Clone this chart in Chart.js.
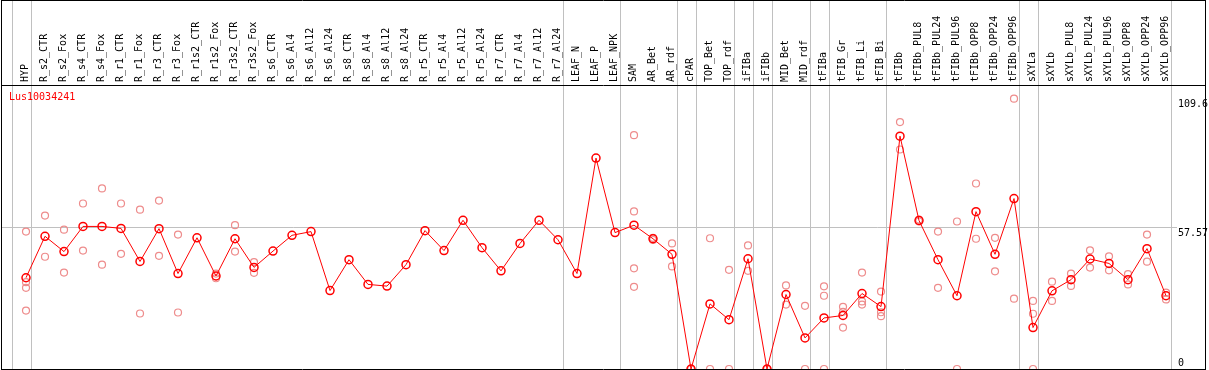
<!DOCTYPE html>
<html>
<head>
<meta charset="utf-8">
<script src="https://cdn.jsdelivr.net/npm/chart.js@4.4.1/dist/chart.umd.min.js"></script>
<style>
  html, body { margin: 0; padding: 0; background: #fff; }
  #wrap { width: 1209px; height: 370px; }
</style>
</head>
<body>
<div id="wrap"><canvas id="c" width="1209" height="370"></canvas></div>
<script>
const chartTitle = "Lus10034241";

const categories = [
  "HYP","R_s2_CTR","R_s2_Fox","R_s4_CTR","R_s4_Fox","R_r1_CTR","R_r1_Fox","R_r3_CTR","R_r3_Fox",
  "R_r1s2_CTR","R_r1s2_Fox","R_r3s2_CTR","R_r3s2_Fox","R_s6_CTR","R_s6_Al4","R_s6_Al12","R_s6_Al24",
  "R_s8_CTR","R_s8_Al4","R_s8_Al12","R_s8_Al24","R_r5_CTR","R_r5_Al4","R_r5_Al12","R_r5_Al24",
  "R_r7_CTR","R_r7_Al4","R_r7_Al12","R_r7_Al24","LEAF_N","LEAF_P","LEAF_NPK","SAM","AR_Bet","AR_rdf",
  "cPAR","TOP_Bet","TOP_rdf","iFIBa","iFIBb","MID_Bet","MID_rdf","tFIBa","tFIB_Gr","tFIB_Li","tFIB_Bi",
  "tFIBb","tFIBb_PUL8","tFIBb_PUL24","tFIBb_PUL96","tFIBb_OPP8","tFIBb_OPP24","tFIBb_OPP96",
  "sXYLa","sXYLb","sXYLb_PUL8","sXYLb_PUL24","sXYLb_PUL96","sXYLb_OPP8","sXYLb_OPP24","sXYLb_OPP96"
];

const meanValues = [
  37.0, 53.8, 47.6, 57.8, 57.8, 57.0, 43.6, 56.9, 38.7,
  53.2, 37.7, 52.8, 41.2, 47.8, 54.2, 55.7, 31.8,
  44.3, 34.3, 33.6, 42.3, 56.1, 48.0, 60.3, 49.2,
  39.8, 50.9, 60.3, 52.4, 38.7, 85.5, 55.3, 58.3, 52.8, 46.5,
  0, 26.4, 20.0, 44.7, 0, 30.2, 12.6, 20.7, 21.7, 30.6, 25.3,
  94.4, 60.2, 44.3, 29.7, 63.8, 46.5, 69.1,
  16.8, 31.7, 36.2, 44.6, 42.8, 36.2, 48.8, 29.7
];

const replicateValues = [
  [55.7, 35.2, 32.9, 23.7], [62.2, 45.5], [56.5, 39.1], [67.1, 48.0], [73.2, 42.3],
  [67.1, 46.7], [64.6, 22.5], [68.3, 45.9], [54.5, 22.9],
  [], [38.7, 36.8], [58.3, 47.6], [43.3, 39.0], [], [], [], [],
  [], [], [], [], [], [], [], [],
  [], [], [], [], [], [], [], [94.8, 63.9, 40.8, 33.3], [53.2, 52.3], [50.9, 41.6],
  [0, 0], [53.0, 0], [40.2, 0], [50.1, 39.8], [0, 0], [33.9, 26.1], [25.6, 0],
  [33.5, 29.7, 0], [25.2, 23.2, 16.8], [39.1, 27.4, 26.1], [31.4, 23.0, 21.4],
  [100.1, 89.0], [60.6, 59.8], [55.7, 32.9], [59.8, 0], [75.2, 52.8], [53.2, 39.6], [109.6, 28.5],
  [27.6, 22.4, 0], [35.4, 27.6], [38.7, 33.7], [48.1, 41.1], [45.7, 40.0], [38.5, 34.3], [54.5, 43.5], [31.0, 28.2]
];

const yTickValues = [0, 57.57, 109.6];
const yTickLabels = [["0", ""], ["", "57.57"], ["", "109.6"]];
const yMax = 115.14;
const separatorsAfter = [-1, 0, 28, 31, 34, 35, 37, 38, 39, 41, 42, 45, 52, 53, 60];

const meanPoints = meanValues.map((v, i) => ({ x: i, y: v }));
const repPoints = [];
replicateValues.forEach((arr, i) => arr.forEach(v => repPoints.push({ x: i, y: v })));

const FONT = { family: "'DejaVu Sans Mono', monospace", size: 10 };

const decor = {
  id: 'decor',
  beforeDatasetsDraw(chart) {
    const ctx = chart.ctx, xs = chart.scales.x, ca = chart.chartArea;
    ctx.save();
    ctx.strokeStyle = '#c0c0c0';
    ctx.lineWidth = 1;
    separatorsAfter.forEach(i => {
      const px = Math.round(xs.getPixelForValue(i + 0.25)) + 0.5;
      ctx.beginPath();
      ctx.moveTo(px, 0);
      ctx.lineTo(px, ca.bottom);
      ctx.stroke();
    });
    ctx.restore();
  },
  afterDraw(chart) {
    const ctx = chart.ctx, ca = chart.chartArea;
    ctx.save();
    ctx.strokeStyle = '#000';
    ctx.lineWidth = 1;
    ctx.beginPath();
    ctx.moveTo(1.5, 0.5); ctx.lineTo(1205.5, 0.5);
    ctx.moveTo(1.5, 0); ctx.lineTo(1.5, 370);
    ctx.moveTo(1205.5, 0); ctx.lineTo(1205.5, 370);
    ctx.moveTo(1.5, ca.top + 0.5); ctx.lineTo(1205.5, ca.top + 0.5);
    ctx.moveTo(1.5, 369.5); ctx.lineTo(1205.5, 369.5);
    ctx.stroke();
    ctx.fillStyle = '#ff0000';
    ctx.font = "10px 'DejaVu Sans Mono', monospace";
    ctx.textBaseline = 'top';
    ctx.textAlign = 'left';
    ctx.fillText(chartTitle, ca.left + 8, ca.top + 7);
    ctx.restore();
  }
};

new Chart(document.getElementById('c'), {
  data: {
    datasets: [
      {
        type: 'line',
        data: meanPoints,
        borderColor: '#ff0000',
        borderWidth: 1,
        pointRadius: 4,
        pointBorderWidth: 1.5,
        pointBorderColor: '#ff0000',
        pointBackgroundColor: 'rgba(0,0,0,0)',
        tension: 0,
        order: 1
      },
      {
        type: 'scatter',
        data: repPoints,
        borderColor: 'rgb(238,140,140)',
        backgroundColor: 'rgba(0,0,0,0)',
        pointRadius: 3.5,
        pointBorderWidth: 1.2,
        order: 2
      }
    ]
  },
  options: {
    responsive: false,
    animation: false,
    events: [],
    layout: { autoPadding: false, padding: { left: 1, bottom: 1, top: 0, right: 0 } },
    plugins: { legend: { display: false }, tooltip: { enabled: false }, title: { display: false } },
    scales: {
      x: {
        type: 'linear',
        position: 'top',
        min: -1.316,
        max: 60.21,
        afterBuildTicks: (s) => { s.ticks = categories.map((_, i) => ({ value: i })); },
        afterFit: (s) => { s.height = 85; s.paddingLeft = 0; s.paddingRight = 0; },
        grid: { display: false, drawTicks: false },
        border: { display: false },
        ticks: {
          autoSkip: false,
          minRotation: 90,
          maxRotation: 90,
          padding: 3,
          labelOffset: 11,
          color: '#000',
          font: FONT,
          callback: (v) => categories[v]
        }
      },
      y: {
        type: 'linear',
        position: 'right',
        min: 0,
        max: yMax,
        afterBuildTicks: (s) => { s.ticks = yTickValues.map(v => ({ value: v })); },
        afterFit: (s) => { s.width = 39; s.paddingTop = 0; s.paddingBottom = 0; },
        grid: {
          color: (c) => (c.tick && c.tick.value === 57.57) ? '#c0c0c0' : 'rgba(0,0,0,0)',
          drawTicks: true,
          tickLength: 7
        },
        border: { display: false },
        ticks: {
          padding: 1,
          color: '#000',
          font: FONT,
          align: 'center',
          crossAlign: 'near',
          callback: (v) => { const k = yTickValues.indexOf(v); return k >= 0 ? yTickLabels[k] : ''; }
        }
      }
    }
  },
  plugins: [decor]
});
</script>
</body>
</html>
